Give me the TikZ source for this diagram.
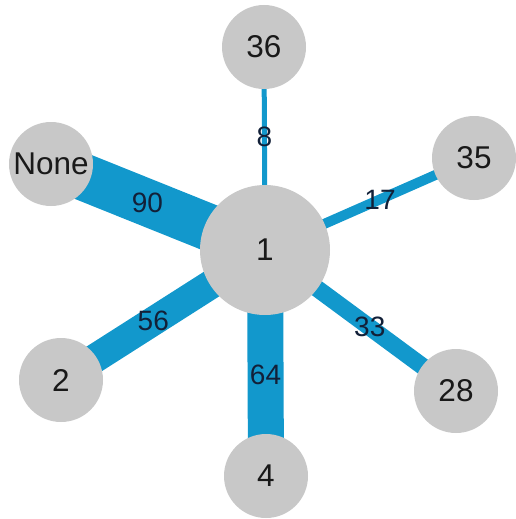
\documentclass[tikz,border=0pt]{standalone}
\usepackage{fontspec}
\setmainfont{Liberation Sans}
\usetikzlibrary{backgrounds}
\definecolor{nodegrey}{RGB}{200,200,200}
\definecolor{edgeblue}{RGB}{18,152,204}
\definecolor{labelnavy}{RGB}{18,32,56}
\begin{document}
\begin{tikzpicture}[x=1pt,y=-1pt,
  vertex/.style={circle,fill=nodegrey,draw=none,minimum size=84pt,inner sep=0pt,
    text=black!90,font=\fontsize{31.5}{31.5}\selectfont},
  hub/.style={vertex,minimum size=130pt},
  link/.style={draw=edgeblue,line cap=butt},
  weight/.style={text=labelnavy,inner sep=0pt,font=\fontsize{28}{28}\selectfont}]
\useasboundingbox (0,0) rectangle (516,519);
% vertices
\node[hub]    (n1)   at (265,250) {1};
\node[vertex] (n36)  at (264,47)  {36};
\node[vertex] (none) at (51,164)  {None};
\node[vertex] (n35)  at (474,158) {35};
\node[vertex] (n2)   at (61,380)  {2};
\node[vertex] (n4)   at (266,476) {4};
\node[vertex] (n28)  at (456,391) {28};
% weighted links, width proportional to weight
\begin{scope}[on background layer]
  \draw[link,line width=5pt]  (n1.center) -- (n36.center);
  \draw[link,line width=47pt] (n1.center) -- (none.center);
  \draw[link,line width=10pt] (n1.center) -- (n35.center);
  \draw[link,line width=29pt] (n1.center) -- (n2.center);
  \draw[link,line width=36pt] (n1.center) -- (n4.center);
  \draw[link,line width=17pt] (n1.center) -- (n28.center);
\end{scope}
% weight labels at the middle of the visible part of each link
\path (n36) -- node[weight] {8} (n1);
\path (none) -- node[weight] {90} (n1);
\path (n1) -- node[weight] {17} (n35);
\path (n2) -- node[weight] {56} (n1);
\path (n1) -- node[weight] {64} (n4);
\path (n1) -- node[weight] {33} (n28);
\end{tikzpicture}
\end{document}
